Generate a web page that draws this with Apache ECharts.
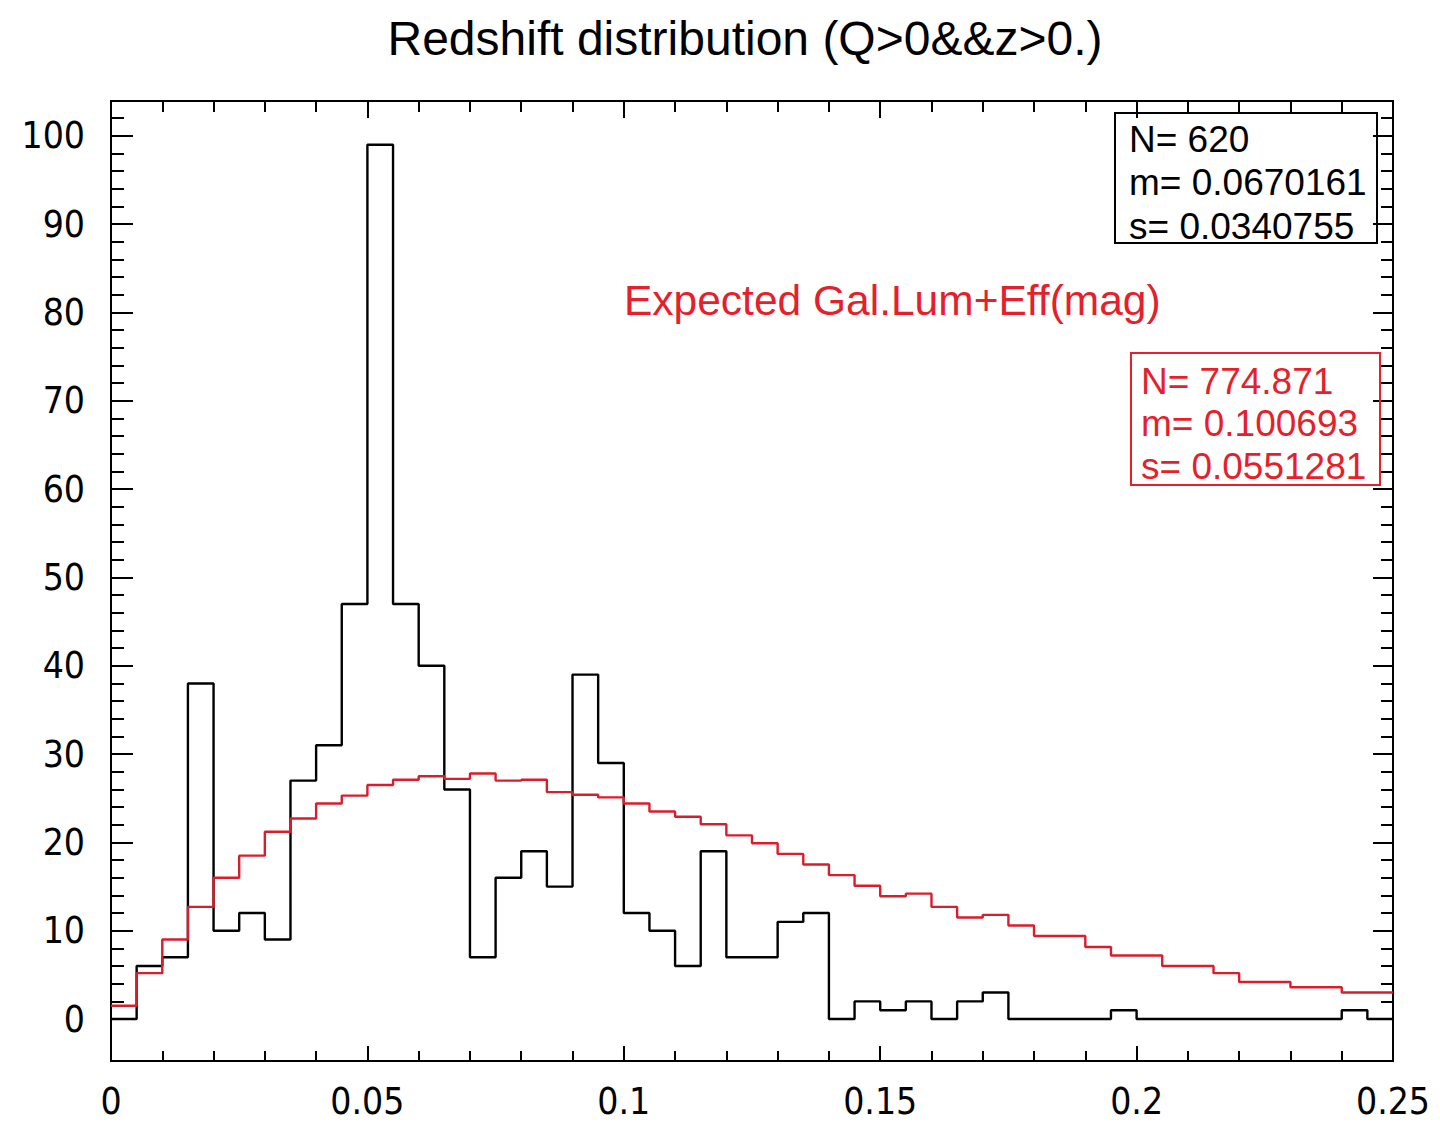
<!DOCTYPE html>
<html>
<head>
<meta charset="utf-8">
<script src="https://cdn.jsdelivr.net/npm/echarts@6/dist/echarts.min.js"></script>
<style>
html,body{margin:0;padding:0;background:#ffffff;}
#chart{width:1440px;height:1124px;}
</style>
</head>
<body>
<div id="chart"></div>
<script>
// ---------------- data ----------------
const titleText = 'Redshift distribution (Q>0&&z>0.)';
const binStart = 0;
const binWidth = 0.005;
const observedCounts = [0,6,7,38,10,12,9,27,31,47,99,47,40,26,7,16,19,15,39,29,12,10,6,19,7,7,11,12,0,2,1,2,0,2,3,0,0,0,0,1,0,0,0,0,0,0,0,0,1,0];
const expectedCounts = [1.5,5.2,9.0,12.7,16.0,18.5,21.2,22.7,24.4,25.3,26.5,27.1,27.5,27.2,27.8,27.0,27.1,25.7,25.4,25.1,24.4,23.5,22.9,22.05,20.8,19.9,18.7,17.5,16.3,15.1,13.9,14.2,12.7,11.5,11.8,10.6,9.4,9.4,8.15,7.2,7.2,6.0,6.0,5.2,4.2,4.2,3.6,3.6,3.0,3.0];
const xTickValues = [0,0.05,0.1,0.15,0.2,0.25];
const xTickLabels = ['0','0.05','0.1','0.15','0.2','0.25'];
const yTickValues = [0,10,20,30,40,50,60,70,80,90,100];
const yTickLabels = ['0','10','20','30','40','50','60','70','80','90','100'];
const observedStats = ['N= 620','m= 0.0670161','s= 0.0340755'];
const expectedLabel = 'Expected Gal.Lum+Eff(mag)';
const expectedStats = ['N= 774.871','m= 0.100693','s= 0.0551281'];

// ---------------- helpers ----------------
const X_MIN = 0, X_MAX = 0.25, Y_MIN = -4.75, Y_MAX = 103.95;
function stepPoints(counts){
  const pts = counts.map((v,i)=>[+(binStart + i*binWidth).toFixed(6), v]);
  pts.push([+(binStart + counts.length*binWidth).toFixed(6), counts[counts.length-1]]);
  return pts;
}
const yMinorValues = [];
for (let v = 2; v <= Y_MAX; v += 2) { if (v % 10 !== 0) yMinorValues.push(v); }
function labelFor(values, labels){
  return function(v){
    let best = 0, d = Infinity;
    values.forEach((t,i)=>{ const dd = Math.abs(t - v); if (dd < d){ d = dd; best = i; } });
    return labels[best];
  };
}

const BLACK = '#000000';
const RED_LINE = '#d81e2c';
const RED_TEXT = '#e51f2b';
const tickFont = '"DejaVu Sans Condensed", "DejaVu Sans", sans-serif';
const textFont = '"Liberation Sans", Arial, Helvetica, sans-serif';

const baseY = {
  type: 'value', min: Y_MIN, max: Y_MAX, gridIndex: 0,
  splitLine: {show: false},
  axisLine: {show: false, onZero: false}
};

const chart = echarts.init(document.getElementById('chart'), null, {renderer: 'svg'});
chart.setOption({
  animation: false,
  backgroundColor: '#ffffff',
  grid: {left: 111, top: 101, width: 1282, height: 960, show: true, borderColor: BLACK, borderWidth: 2, backgroundColor: 'transparent'},
  xAxis: [
    {
      type: 'value', position: 'bottom', min: X_MIN, max: X_MAX, interval: 0.05,
      splitLine: {show: false},
      axisLine: {show: false, onZero: false},
      axisTick: {show: true, inside: true, length: 15, lineStyle: {color: BLACK, width: 2}},
      minorTick: {show: true, splitNumber: 5, length: 10, lineStyle: {color: BLACK, width: 2}},
      axisLabel: {
        show: true, customValues: xTickValues, formatter: labelFor(xTickValues, xTickLabels),
        margin: 40, verticalAlign: 'middle', color: BLACK, fontFamily: tickFont, fontSize: 37
      }
    },
    {
      type: 'value', position: 'top', min: X_MIN, max: X_MAX, interval: 0.05,
      splitLine: {show: false},
      axisLine: {show: false, onZero: false},
      axisTick: {show: true, inside: true, length: 17, lineStyle: {color: BLACK, width: 2}},
      minorTick: {show: true, splitNumber: 5, length: 11, lineStyle: {color: BLACK, width: 2}},
      axisLabel: {show: false}
    }
  ],
  yAxis: [
    Object.assign({}, baseY, {
      position: 'left',
      axisTick: {show: true, inside: true, length: 22, customValues: yTickValues, lineStyle: {color: BLACK, width: 2}},
      axisLabel: {show: true, customValues: yTickValues, formatter: labelFor(yTickValues, yTickLabels),
        margin: 26, color: BLACK, fontFamily: tickFont, fontSize: 37}
    }),
    Object.assign({}, baseY, {
      position: 'left',
      axisTick: {show: true, inside: true, length: 13, customValues: yMinorValues, lineStyle: {color: BLACK, width: 2}},
      axisLabel: {show: false}
    }),
    Object.assign({}, baseY, {
      position: 'right',
      axisTick: {show: true, inside: true, length: 20, customValues: yTickValues, lineStyle: {color: BLACK, width: 2}},
      axisLabel: {show: false}
    }),
    Object.assign({}, baseY, {
      position: 'right',
      axisTick: {show: true, inside: true, length: 12, customValues: yMinorValues, lineStyle: {color: BLACK, width: 2}},
      axisLabel: {show: false}
    })
  ],
  series: [
    {
      name: 'Observed', type: 'line', step: 'end', xAxisIndex: 0, yAxisIndex: 0,
      data: stepPoints(observedCounts), symbol: 'none', z: 3,
      lineStyle: {color: BLACK, width: 2.4}
    },
    {
      name: 'Expected', type: 'line', step: 'end', xAxisIndex: 0, yAxisIndex: 0,
      data: stepPoints(expectedCounts), symbol: 'none', z: 4,
      lineStyle: {color: RED_LINE, width: 2.4}
    }
  ],
  graphic: [
    {type: 'text', x: 745, y: 38, z: 10,
      style: {text: titleText, fill: BLACK, font: '48px ' + textFont, textAlign: 'center', textVerticalAlign: 'middle', verticalAlign: 'middle'}},
    {type: 'rect', shape: {x: 1115, y: 113, width: 262, height: 130}, z: 5,
      style: {fill: 'none', stroke: BLACK, lineWidth: 2}},
    ...observedStats.map((t,i)=>({type: 'text', x: 1129, y: 139 + i*43.5, z: 10,
      style: {text: t, fill: BLACK, font: '37px ' + textFont, textAlign: 'left', textVerticalAlign: 'middle', verticalAlign: 'middle'}})),
    {type: 'text', x: 624, y: 300, z: 10,
      style: {text: expectedLabel, fill: RED_TEXT, font: '42.5px ' + textFont, textAlign: 'left', textVerticalAlign: 'middle', verticalAlign: 'middle'}},
    {type: 'rect', shape: {x: 1131, y: 353, width: 249, height: 132}, z: 5,
      style: {fill: 'none', stroke: RED_TEXT, lineWidth: 2}},
    ...expectedStats.map((t,i)=>({type: 'text', x: 1141, y: 381 + i*42.5, z: 10,
      style: {text: t, fill: RED_TEXT, font: '37px ' + textFont, textAlign: 'left', textVerticalAlign: 'middle', verticalAlign: 'middle'}}))
  ]
});
</script>
</body>
</html>
